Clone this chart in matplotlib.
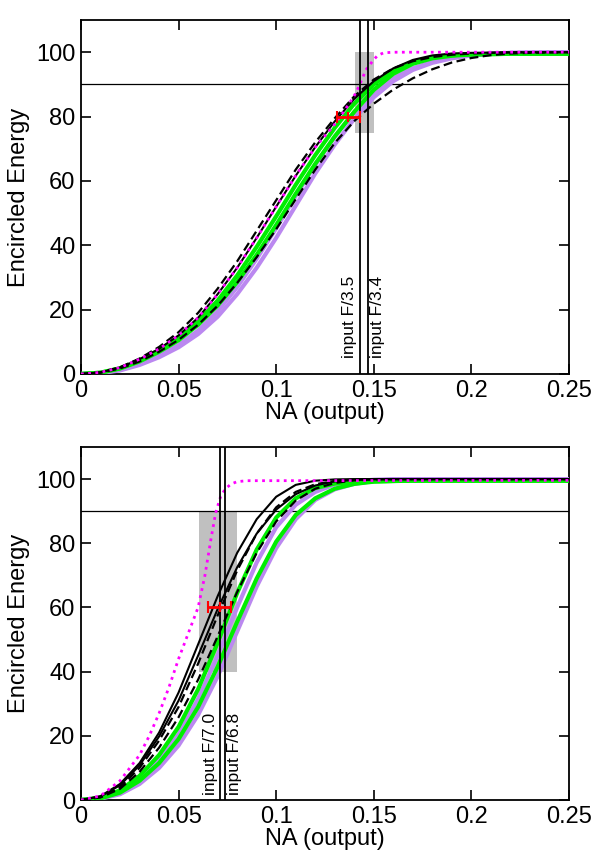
# Encircled energy vs output NA, two input beams (F/3.5-3.4 and F/7.0-6.8)

import numpy as np
import matplotlib.pyplot as plt

plt.rcParams['font.family'] = ['Liberation Sans', 'DejaVu Sans']
plt.rcParams['font.size'] = 17

# common NA grid for the smooth curves
na_grid = [0, 0.01, 0.02, 0.03, 0.04, 0.05, 0.06, 0.07, 0.08, 0.09, 0.10, 0.11, 0.12,
           0.13, 0.14, 0.15, 0.16, 0.17, 0.18, 0.19, 0.20, 0.21, 0.22, 0.23, 0.24, 0.25]

# --- top panel (input F/3.5, F/3.4) ---
top_black_solid = [0, 0.5, 2.0, 4.6, 7.8, 12.0, 17.5, 24.8, 33.0, 42.3, 52.0, 61.6, 70.5,
                   78.5, 85.5, 91.0, 95.0, 97.6, 99.0, 99.6, 99.8, 99.9, 100, 100, 100, 100]
top_dash_hi = [0, 0.5, 2.1, 4.8, 8.4, 13.0, 19.0, 26.5, 35.0, 44.5, 54.0, 63.5, 72.0,
               79.5, 86.3, 91.5, 95.0, 97.2, 98.5, 99.2, 99.6, 99.8, 99.9, 100, 100, 100]
top_dash_lo = [0, 0.4, 1.7, 3.9, 6.9, 10.6, 15.3, 21.2, 28.3, 36.3, 45.0, 54.3, 63.5,
               71.8, 78.6, 84.0, 88.4, 91.9, 94.7, 96.8, 98.2, 99.1, 99.6, 99.8, 99.9, 100]
top_green_a = [0, 0.4, 1.8, 4.2, 7.4, 11.3, 16.4, 22.8, 30.6, 39.5, 49.0, 58.8, 68.0,
               76.5, 84.0, 90.0, 94.3, 97.0, 98.4, 99.1, 99.3, 99.4, 99.5, 99.5, 99.5, 99.5]
top_green_b = [0, 0.4, 1.7, 3.9, 6.9, 10.5, 15.3, 21.3, 28.6, 37.0, 46.3, 56.0, 65.3,
               73.8, 81.5, 88.3, 93.3, 96.4, 98.1, 98.9, 99.3, 99.4, 99.5, 99.5, 99.5, 99.5]
top_purple_a = [0, 0.3, 1.3, 3.1, 5.7, 9.0, 13.5, 19.5, 27.0, 35.8, 45.3, 55.3, 65.0,
                73.8, 81.3, 87.5, 92.0, 95.0, 97.0, 98.3, 99.0, 99.5, 99.8, 99.9, 100, 100]
top_purple_b = [0, 0.3, 1.1, 2.8, 5.2, 8.3, 12.4, 17.8, 24.8, 33.0, 42.3, 52.3, 62.3,
                71.3, 79.3, 86.0, 91.0, 94.5, 96.7, 98.1, 99.0, 99.5, 99.8, 99.9, 100, 100]
top_mag_na = [0, 0.01, 0.02, 0.03, 0.04, 0.05, 0.06, 0.07, 0.08, 0.09, 0.10, 0.11, 0.12,
              0.125, 0.129, 0.134, 0.138, 0.141, 0.143, 0.146, 0.1497, 0.152, 0.155, 0.16, 0.25]
top_mag_ee = [0, 0.5, 2.0, 4.6, 7.8, 12.0, 17.5, 24.8, 33.0, 42.3, 52.0, 61.6, 70.5,
              74.0, 76.8, 81.0, 84.6, 87.5, 90.3, 94.5, 97.5, 99.0, 99.8, 100, 100]
top_fnum = [3.5, 3.4]
top_point = (0.137, 80, 0.006)          # NA, EE, NA error
top_box = (0.1405, 0.150, 75, 100)      # NA range, EE range

# --- bottom panel (input F/7.0, F/6.8) ---
bot_black_a = [0, 1.2, 5.0, 11.5, 21.0, 33.5, 48.5, 63.5, 77.0, 87.5, 94.5, 98.2, 99.5,
               99.9, 100, 100, 100, 100, 100, 100, 100, 100, 100, 100, 100, 100]
bot_black_b = [0, 1.1, 4.6, 10.8, 19.8, 31.0, 45.0, 59.5, 72.5, 83.0, 90.5, 95.3, 98.0,
               99.3, 99.8, 100, 100, 100, 100, 100, 100, 100, 100, 100, 100, 100]
bot_dash_a = [0, 0.9, 4.0, 10.0, 18.5, 29.0, 42.5, 57.5, 71.5, 83.0, 91.2, 96.0, 98.4,
              99.4, 99.8, 100, 100, 100, 100, 100, 100, 100, 100, 100, 100, 100]
bot_dash_b = [0, 0.8, 3.5, 8.8, 16.3, 25.8, 37.5, 51.0, 64.8, 77.0, 86.8, 93.3, 97.0,
              98.8, 99.6, 99.9, 100, 100, 100, 100, 100, 100, 100, 100, 100, 100]
bot_green_a = [0, 0.7, 3.0, 7.5, 14.0, 22.8, 34.5, 49.0, 64.5, 78.0, 88.0, 94.0, 97.2,
               98.6, 99.1, 99.3, 99.4, 99.5, 99.5, 99.5, 99.5, 99.5, 99.5, 99.5, 99.5, 99.5]
bot_green_b = [0, 0.5, 2.3, 6.0, 11.5, 19.0, 29.0, 41.5, 55.5, 69.0, 80.5, 88.8, 94.0,
               97.0, 98.5, 99.2, 99.4, 99.5, 99.5, 99.5, 99.5, 99.5, 99.5, 99.5, 99.5, 99.5]
bot_purple_a = [0, 0.6, 2.6, 6.8, 12.5, 20.5, 31.5, 45.0, 60.0, 74.0, 85.0, 92.0, 96.0,
                98.3, 99.3, 99.8, 100, 100, 100, 100, 100, 100, 100, 100, 100, 100]
bot_purple_b = [0, 0.4, 1.8, 5.0, 10.0, 17.0, 26.5, 38.5, 52.5, 66.5, 78.5, 87.5, 93.5,
                96.8, 98.5, 99.4, 99.8, 100, 100, 100, 100, 100, 100, 100, 100, 100]
bot_mag_na = [0, 0.01, 0.02, 0.03, 0.035, 0.04, 0.045, 0.05, 0.055, 0.06, 0.0635, 0.0665,
              0.069, 0.0715, 0.074, 0.077, 0.08, 0.085, 0.25]
bot_mag_ee = [0, 1.3, 6.0, 14.0, 20.0, 27.0, 35.0, 44.0, 52.0, 60.0, 70.0, 81.0,
              89.5, 94.5, 97.0, 98.5, 99.2, 99.5, 99.6]
bot_fnum = [7.0, 6.8]
bot_point = (0.071, 60, 0.006)
bot_box = (0.0604, 0.080, 40, 90)

xticks = [0, 0.05, 0.1, 0.15, 0.2, 0.25]
xticklabels = ['0', '0.05', '0.1', '0.15', '0.2', '0.25']
yticks = [0, 20, 40, 60, 80, 100]

GREEN = '#00ee00'
PURPLE = '#bb88f0'


def draw_panel(ax, purples, greens, solids, dashes, mag_na, mag_ee, fnums, point, box, text_y):
    x0, x1, y0, y1 = box
    ax.fill_between([x0, x1], y0, y1, color='#c0c0c0', lw=0, zorder=1)
    ax.axhline(90, color='black', lw=0.9, zorder=2)

    for ee in purples:
        ax.plot(na_grid, ee, color=PURPLE, lw=3, zorder=3)
    for ee in greens:
        ax.plot(na_grid, ee, color=GREEN, lw=3, zorder=3)
    for ee in solids:
        ax.plot(na_grid, ee, color='black', lw=1.5, zorder=4)
    for ee in dashes:
        ax.plot(na_grid, ee, color='black', lw=1.6, ls=(0, (4, 2)), zorder=4)
    ax.plot(mag_na, mag_ee, color='#ff00ff', lw=2, ls=(0, (1, 1.6)), zorder=5)

    # input beam NA = 1/(2F)
    for i, f in enumerate(fnums):
        na = 1 / (2 * f)
        ax.axvline(na, color='black', lw=1.3, zorder=6)
        dx, ha = (-2, 'right') if i == 0 else (1.5, 'left')
        ax.annotate(f'input F/{f:.1f}', xy=(na, text_y), xytext=(dx, 0),
                    textcoords='offset points', rotation=90, ha=ha, va='bottom',
                    fontsize=12.5, zorder=7)

    na_pt, ee_pt, err = point
    ax.errorbar([na_pt], [ee_pt], xerr=[err], fmt='|', color='red', ms=7, mew=1.5,
                elinewidth=2, capsize=4, capthick=2, zorder=8)

    ax.set_xlim(0, 0.25)
    ax.set_ylim(0, 110)
    ax.set_xticks(xticks)
    ax.set_xticklabels(xticklabels)
    ax.set_yticks(yticks)
    ax.tick_params(direction='in', top=True, right=True, length=7, width=1.2,
                   labelsize=17, pad=4)
    for s in ax.spines.values():
        s.set_linewidth(1.3)
    ax.set_xlabel('NA (output)', fontsize=17, labelpad=0)
    ax.set_ylabel('Encircled Energy', fontsize=17, labelpad=4)


fig = plt.figure(figsize=(5.99, 8.56), dpi=100)
ax_top = fig.add_axes([0.1352, 0.5631, 0.8147, 0.4135])
ax_bot = fig.add_axes([0.1352, 0.0654, 0.8147, 0.4124])

draw_panel(ax_top, [top_purple_a, top_purple_b], [top_green_a, top_green_b],
           [top_black_solid], [top_dash_hi, top_dash_lo],
           top_mag_na, top_mag_ee, top_fnum, top_point, top_box, 5)
draw_panel(ax_bot, [bot_purple_a, bot_purple_b], [bot_green_a, bot_green_b],
           [bot_black_a, bot_black_b], [bot_dash_a, bot_dash_b],
           bot_mag_na, bot_mag_ee, bot_fnum, bot_point, bot_box, 1.5)

plt.savefig('out.png', dpi=100)
